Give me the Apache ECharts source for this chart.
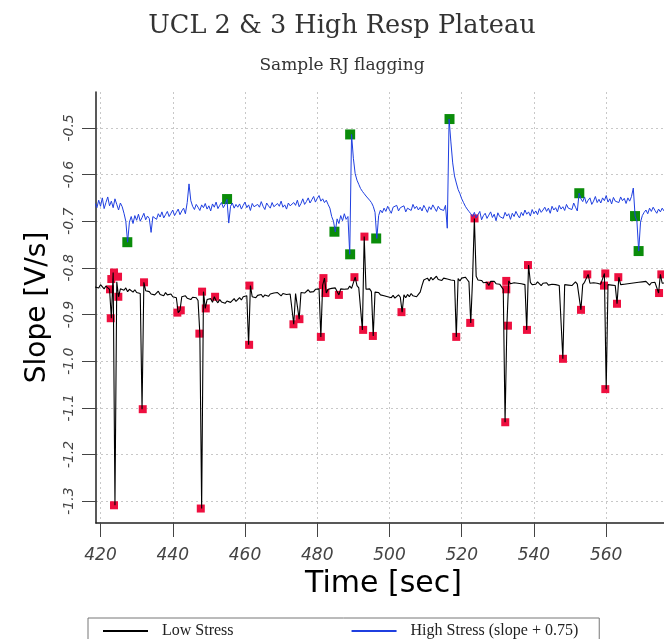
<!DOCTYPE html>
<html><head><meta charset="utf-8">
<script src="https://cdn.jsdelivr.net/npm/echarts@6/dist/echarts.min.js"></script>
<style>html,body{margin:0;padding:0;background:#fff}#c{width:664px;height:639px;overflow:hidden}</style>
</head><body><div id="c"></div>
<script>
const titleText = 'UCL 2 & 3 High Resp Plateau';
const subtitleText = 'Sample RJ flagging';
const xTitle = 'Time [sec]';
const yTitle = 'Slope [V/s]';
const seriesNames = ['Low Stress', 'High Stress (slope + 0.75)'];
const xTicks = [420, 440, 460, 480, 500, 520, 540, 560];
const yTicks = [-1.3, -1.2, -1.1, -1.0, -0.9, -0.8, -0.7, -0.6, -0.5];
// sample times: 418.5 s onward, every 0.5 s
const tStart = 418.5, tStep = 0.5;
const lowStress = [
-0.841,-0.838,-0.843,-0.836,-0.840,-0.845,-0.839,-0.843,-0.846,-0.908,
-0.810,-1.309,-0.830,-0.862,-0.845,-0.842,-0.848,-0.843,-0.851,-0.846,
-0.849,-0.852,-0.847,-0.853,-0.850,-0.855,-1.103,-0.831,-0.849,-0.853,
-0.851,-0.856,-0.852,-0.858,-0.854,-0.850,-0.857,-0.855,-0.860,-0.853,
-0.858,-0.861,-0.856,-0.862,-0.859,-0.864,-0.896,-0.891,-0.862,-0.866,
-0.860,-0.865,-0.862,-0.868,-0.863,-0.867,-0.864,-0.870,-0.941,-1.316,
-0.851,-0.887,-0.868,-0.872,-0.866,-0.874,-0.862,-0.870,-0.875,-0.868,
-0.873,-0.869,-0.876,-0.871,-0.867,-0.874,-0.870,-0.866,-0.872,-0.868,
-0.864,-0.869,-0.862,-0.866,-0.860,-0.965,-0.838,-0.862,-0.858,-0.864,
-0.859,-0.862,-0.857,-0.863,-0.858,-0.855,-0.861,-0.856,-0.859,-0.854,
-0.858,-0.853,-0.857,-0.860,-0.855,-0.851,-0.857,-0.853,-0.856,-0.852,
-0.921,-0.855,-0.851,-0.910,-0.853,-0.849,-0.854,-0.850,-0.847,-0.852,
-0.848,-0.851,-0.846,-0.850,-0.845,-0.948,-0.837,-0.822,-0.854,-0.846,
-0.849,-0.844,-0.848,-0.843,-0.847,-0.858,-0.845,-0.841,-0.846,-0.842,
-0.845,-0.839,-0.844,-0.840,-0.820,-0.838,-0.843,-0.840,-0.933,-0.733,
-0.846,-0.850,-0.845,-0.851,-0.946,-0.852,-0.856,-0.853,-0.858,-0.855,
-0.860,-0.856,-0.862,-0.858,-0.864,-0.859,-0.865,-0.861,-0.858,-0.863,
-0.895,-0.858,-0.864,-0.857,-0.862,-0.855,-0.860,-0.856,-0.862,-0.857,
-0.852,-0.838,-0.826,-0.830,-0.822,-0.828,-0.820,-0.826,-0.823,-0.818,
-0.825,-0.821,-0.827,-0.822,-0.818,-0.824,-0.820,-0.826,-0.822,-0.827,
-0.948,-0.823,-0.828,-0.822,-0.826,-0.820,-0.825,-0.830,-0.918,-0.824,
-0.694,-0.818,-0.826,-0.830,-0.827,-0.832,-0.828,-0.831,-0.838,-0.829,
-0.833,-0.829,-0.834,-0.830,-0.835,-0.831,-0.846,-1.131,-0.924,-0.828,
-0.834,-0.838,-0.832,-0.836,-0.833,-0.837,-0.834,-0.831,-0.836,-0.933,
-0.794,-0.831,-0.836,-0.832,-0.835,-0.830,-0.834,-0.838,-0.833,-0.836,
-0.832,-0.837,-0.833,-0.835,-0.831,-0.836,-0.833,-0.838,-0.834,-0.995,
-0.836,-0.832,-0.837,-0.833,-0.838,-0.834,-0.830,-0.835,-0.832,-0.890,
-0.836,-0.831,-0.835,-0.814,-0.833,-0.837,-0.832,-0.836,-0.833,-0.830,
-0.835,-0.838,-0.812,-1.060,-0.836,-0.832,-0.837,-0.833,-0.838,-0.877,
-0.820,-0.836,-0.840,-0.835,-0.839,-0.834,-0.838,-0.833,-0.837,-0.832,
-0.836,-0.831,-0.835,-0.830,-0.834,-0.829,-0.833,-0.837,-0.832,-0.835,
-0.831,-0.834,-0.854,-0.814,-0.833,-0.829,-0.832
];
const highStress = [
-0.662,-0.671,-0.655,-0.668,-0.650,-0.673,-0.660,-0.648,-0.667,-0.657,
-0.671,-0.652,-0.664,-0.676,-0.661,-0.669,-0.683,-0.700,-0.745,-0.702,
-0.690,-0.705,-0.688,-0.698,-0.685,-0.700,-0.692,-0.683,-0.697,-0.689,
-0.694,-0.724,-0.690,-0.688,-0.696,-0.684,-0.691,-0.680,-0.693,-0.686,
-0.679,-0.690,-0.683,-0.676,-0.688,-0.681,-0.674,-0.686,-0.678,-0.672,
-0.684,-0.660,-0.620,-0.656,-0.668,-0.675,-0.664,-0.670,-0.677,-0.665,
-0.671,-0.662,-0.674,-0.667,-0.678,-0.663,-0.670,-0.659,-0.673,-0.666,
-0.660,-0.671,-0.664,-0.653,-0.704,-0.668,-0.661,-0.672,-0.664,-0.670,
-0.663,-0.674,-0.666,-0.659,-0.671,-0.665,-0.677,-0.662,-0.669,-0.673,
-0.664,-0.670,-0.658,-0.668,-0.675,-0.661,-0.667,-0.672,-0.660,-0.669,
-0.673,-0.662,-0.668,-0.657,-0.670,-0.665,-0.674,-0.661,-0.667,-0.671,
-0.660,-0.666,-0.655,-0.669,-0.662,-0.652,-0.664,-0.658,-0.650,-0.661,
-0.654,-0.647,-0.659,-0.651,-0.645,-0.657,-0.652,-0.660,-0.655,-0.664,
-0.672,-0.690,-0.700,-0.723,-0.695,-0.705,-0.688,-0.699,-0.684,-0.696,
-0.690,-0.771,-0.514,-0.565,-0.598,-0.612,-0.621,-0.630,-0.636,-0.641,
-0.646,-0.650,-0.655,-0.660,-0.668,-0.681,-0.737,-0.688,-0.676,-0.682,
-0.672,-0.679,-0.668,-0.676,-0.683,-0.670,-0.674,-0.666,-0.678,-0.671,
-0.675,-0.667,-0.680,-0.672,-0.669,-0.677,-0.664,-0.673,-0.668,-0.676,
-0.670,-0.678,-0.666,-0.673,-0.681,-0.669,-0.675,-0.665,-0.672,-0.679,
-0.668,-0.674,-0.670,-0.677,-0.666,-0.715,-0.481,-0.530,-0.575,-0.603,
-0.618,-0.632,-0.641,-0.652,-0.660,-0.668,-0.674,-0.679,-0.684,-0.690,
-0.681,-0.693,-0.686,-0.679,-0.697,-0.688,-0.683,-0.694,-0.687,-0.680,
-0.692,-0.685,-0.699,-0.682,-0.690,-0.686,-0.694,-0.681,-0.689,-0.684,
-0.696,-0.683,-0.690,-0.679,-0.687,-0.693,-0.681,-0.688,-0.676,-0.685,
-0.680,-0.689,-0.675,-0.684,-0.678,-0.686,-0.673,-0.681,-0.676,-0.670,
-0.679,-0.672,-0.683,-0.668,-0.676,-0.671,-0.680,-0.666,-0.674,-0.669,
-0.677,-0.664,-0.672,-0.668,-0.675,-0.661,-0.670,-0.678,-0.640,-0.652,
-0.658,-0.648,-0.662,-0.655,-0.650,-0.664,-0.657,-0.647,-0.660,-0.653,
-0.661,-0.650,-0.656,-0.645,-0.659,-0.652,-0.663,-0.649,-0.657,-0.654,
-0.660,-0.648,-0.656,-0.651,-0.662,-0.650,-0.657,-0.647,-0.629,-0.689,
-0.700,-0.764,-0.702,-0.688,-0.681,-0.676,-0.684,-0.672,-0.679,-0.670,
-0.677,-0.683,-0.674,-0.680,-0.672,-0.678,-0.675
];
// flagged points
const lowFlagTime = [422.63,422.83,422.99,423.74,423.74,424.85,424.93,431.69,432.05,441.27,442.22,447.37,447.76,448.12,449.14,451.72,461.14,461.22,473.41,475.07,481.0,481.55,481.72,482.27,486.0,490.3,492.71,493.07,495.4,503.32,518.48,522.35,523.55,527.7,532.33,532.33,532.8,532.05,538.34,538.06,548.03,553.02,554.76,559.75,559.39,559.75,563.35,562.99,575.26,574.63];
const lowFlagValue = [-0.846,-0.908,-0.824,-0.810,-1.309,-0.819,-0.862,-1.103,-0.831,-0.896,-0.891,-0.941,-1.316,-0.851,-0.887,-0.862,-0.965,-0.838,-0.921,-0.910,-0.948,-0.837,-0.822,-0.854,-0.858,-0.820,-0.933,-0.733,-0.946,-0.895,-0.948,-0.918,-0.694,-0.838,-0.828,-0.846,-0.924,-1.131,-0.794,-0.933,-0.995,-0.890,-0.814,-0.812,-0.838,-1.060,-0.820,-0.877,-0.814,-0.854];
const highFlagTime = [427.42,455.04,484.76,489.11,489.11,496.32,516.62,552.55,567.98,568.97];
const highFlagValue = [-0.745,-0.6525,-0.7225,-0.514,-0.771,-0.737,-0.481,-0.640,-0.689,-0.764];

const timeAt = i => +(tStart + i * tStep).toFixed(2);
const lowData = lowStress.map((v, i) => [timeAt(i), v]);
const highData = highStress.map((v, i) => [timeAt(i), v]);
const lowFlags = lowFlagTime.map((t, i) => [t, lowFlagValue[i]]);
const highFlags = highFlagTime.map((t, i) => [t, highFlagValue[i]]);

const chart = echarts.init(document.getElementById('c'), null, {renderer: 'canvas'});
const serif = 'DejaVu Serif';
const sans = 'DejaVu Sans';
chart.setOption({
  animation: false,
  backgroundColor: '#ffffff',
  title: [
    {text: titleText, left: 337, top: 8, textAlign: 'center',
     textStyle: {fontFamily: serif, fontSize: 25.6, fontWeight: 'normal', color: '#333'}},
    {text: subtitleText, left: 337, top: 52, textAlign: 'center',
     textStyle: {fontFamily: serif, fontSize: 17, fontWeight: 'normal', color: '#333'}}
  ],
  grid: {left: 96, top: 92, right: 0, bottom: 116, containLabel: false},
  legend: {
    data: seriesNames, left: 88, top: 618, orient: 'horizontal',
    itemWidth: 45, itemHeight: 14, itemGap: 117,
    padding: [5, 21, 30, 14], borderColor: '#777', borderWidth: 1,
    itemStyle: {opacity: 0},
    textStyle: {fontFamily: 'Liberation Serif', fontSize: 16, color: '#222', padding: [0, 0, 0, 9]}
  },
  xAxis: {
    type: 'value', min: 418.75, max: 576,
    name: xTitle, nameLocation: 'middle', nameGap: 45,
    nameTextStyle: {fontFamily: sans, fontSize: 30, color: '#000', padding: [0, 0, 0, 7]},
    axisLine: {show: true, onZero: false, lineStyle: {color: '#222', width: 1.5}},
    axisTick: {show: true, length: 14, customValues: xTicks, lineStyle: {color: '#444'}},
    axisLabel: {customValues: xTicks, margin: 24, fontFamily: sans, fontStyle: 'italic', fontSize: 17, color: '#444'},
    splitLine: {show: true, lineStyle: {color: '#c8c8c8', type: [2, 3]}}
  },
  yAxis: {
    type: 'value', min: -1.347, max: -0.423,
    name: yTitle, nameLocation: 'middle', nameGap: 44, nameRotate: 90,
    nameTextStyle: {fontFamily: sans, fontSize: 28, color: '#000'},
    axisLine: {show: true, onZero: false, lineStyle: {color: '#222', width: 1.5}},
    axisTick: {show: true, length: 14, customValues: yTicks, lineStyle: {color: '#444'}},
    axisLabel: {customValues: yTicks, rotate: 90, margin: 20, formatter: v => v.toFixed(1),
      fontFamily: sans, fontStyle: 'italic', fontSize: 14, color: '#444'},
    splitLine: {show: true, lineStyle: {color: '#c8c8c8', type: [2, 3]}}
  },
  series: [
    {name: seriesNames[0], type: 'line', data: lowData, symbol: 'none', showSymbol: false,
     lineStyle: {color: '#000', width: 1.1}, itemStyle: {color: '#000'}},
    {name: 'Low flags', type: 'scatter', data: lowFlags, symbol: 'rect', symbolSize: 8,
     itemStyle: {color: '#ee0f3f', opacity: 1}},
    {name: seriesNames[1], type: 'line', data: highData, symbol: 'none', showSymbol: false,
     lineStyle: {color: '#1f3fe0', width: 1}, itemStyle: {color: '#1f3fe0'}},
    {name: 'High flags', type: 'scatter', data: highFlags, symbol: 'rect', symbolSize: 10,
     itemStyle: {color: '#0a8c0a', opacity: 1}}
  ]
});
</script></body></html>
